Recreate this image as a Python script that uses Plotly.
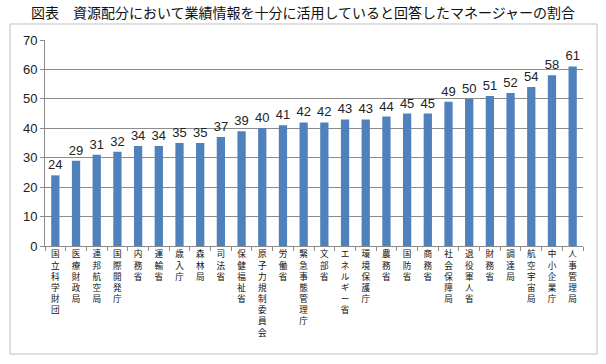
import plotly.graph_objects as go

categories = ["国立科学財団", "医療財政局", "連邦航空局", "国際開発庁", "内務省", "運輸省", "歳入庁",
              "森林局", "司法省", "保健福祉省", "原子力規制委員会", "労働省", "緊急事態管理庁", "文部省",
              "エネルギー省", "環境保護庁", "農務省", "国防省", "商務省", "社会保障局", "退役軍人省",
              "財務省", "調達局", "航空宇宙局", "中小企業庁", "人事管理局"]
values = [24, 29, 31, 32, 34, 34, 35, 35, 37, 39, 40, 41, 42, 42, 43, 43, 44, 45, 45, 49, 50,
          51, 52, 54, 58, 61]
y_ticks = [0, 10, 20, 30, 40, 50, 60, 70]
title = "図表　資源配分において業績情報を十分に活用していると回答したマネージャーの割合"

FONT = "Liberation Sans, Arial, Noto Sans CJK JP, sans-serif"
CJK = "Noto Sans CJK JP, sans-serif"

# vertical (tategaki) category labels: characters stacked one per line
ticktext = ["<br>".join(list(c)) for c in categories]

fig = go.Figure(go.Bar(
    x=categories, y=values,
    marker=dict(color="#4F81BD", line=dict(width=0)),
    text=[str(v) for v in values], textposition="outside",
    textfont=dict(size=13, color="#222", family=FONT),
    constraintext="none", cliponaxis=False,
))

fig.update_layout(
    width=606, height=364,
    margin=dict(l=45, r=23, t=40, b=118),
    paper_bgcolor="white", plot_bgcolor="white",
    bargap=0.6, showlegend=False,
    title=dict(text=title, x=0.5, xanchor="center", y=0.965, yanchor="middle",
               font=dict(size=14, color="#111", family=CJK)),
    xaxis=dict(
        type="category", tickmode="array", tickvals=categories, ticktext=ticktext,
        tickangle=0, tickfont=dict(size=8.6, color="#111", family=CJK),
        ticks="outside", tickson="boundaries", ticklen=4, tickcolor="#8c8c8c",
        showline=True, linecolor="#8c8c8c", linewidth=1, showgrid=False,
    ),
    yaxis=dict(
        range=[0, 70], tickvals=y_ticks, tickfont=dict(size=13, color="#222", family=FONT),
        showgrid=True, gridcolor="#8c8c8c", gridwidth=1,
        showline=True, linecolor="#8c8c8c", linewidth=1,
        ticks="outside", ticklen=4, tickcolor="#8c8c8c", zeroline=False,
    ),
    shapes=[dict(type="rect", xref="paper", yref="paper",
                 x0=-35/538, x1=(597-45)/538, y0=-(354-246)/206, y1=(246-24)/206,
                 line=dict(color="#bfbfbf", width=1), fillcolor="rgba(0,0,0,0)", layer="below")],
)

fig.write_html("out.html")
